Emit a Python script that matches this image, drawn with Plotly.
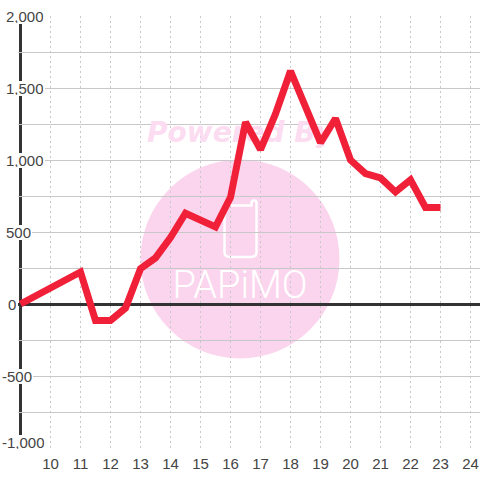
import plotly.graph_objects as go

hours = [9, 11, 11.5, 12, 12.5, 13, 13.5, 14, 14.5, 15, 15.5, 16, 16.5, 17, 17.5, 18, 18.5, 19, 19.5, 20, 20.5, 21, 21.5, 22, 22.5, 23]
values = [0, 222, -115, -115, -28, 245, 320, 462, 630, 583, 535, 740, 1262, 1072, 1320, 1618, 1368, 1120, 1288, 1000, 905, 875, 778, 862, 670, 670]
x_ticks = list(range(10, 25))
y_labels = [2000, 1500, 1000, 500, 0, -500, -1000]
logo_text = "PAPiMO"

L, R, T, B = 18, 0, 16, 32
W, H = 480, 480
PW, PH = W - L - R, H - T - B
X0 = 9 - 2.5 / 30
X1 = X0 + PW / 30


def px(x):
    return (x - L) / PW


def py(y):
    return 1 - (y - T) / PH


def dx(x):
    return X0 + (x - L) / 30


def dy(y):
    return (448 - y) / 0.144 - 1000


fig = go.Figure()

fig.add_trace(go.Scatter(
    x=[dx(240.5)], y=[dy(135)], mode="text", text=["Powered By"], hoverinfo="skip",
    textfont=dict(family="DejaVu Sans", size=28, color="#fcdcf0", weight="bold", style="italic"),
    showlegend=False))
fig.add_trace(go.Scatter(
    x=[dx(240)], y=[dy(288)], mode="text", text=[logo_text], hoverinfo="skip",
    textfont=dict(family="Roboto", size=38, color="#ffffff", weight=300),
    showlegend=False))

fig.add_trace(go.Scatter(
    x=hours, y=values, mode="lines", hoverinfo="skip", showlegend=False,
    line=dict(color="#f02038", width=7, shape="linear")))

shapes = [
    dict(type="circle", xref="paper", yref="paper", layer="below",
         x0=px(140.5), x1=px(339.5), y0=py(358.5), y1=py(159.5),
         fillcolor="#fbd5ee", line_width=0),
    dict(type="path", xref="paper", yref="paper", layer="below",
         path=(f"M {px(224.5)} {py(206)} L {px(224.5)} {py(252)} "
               f"Q {px(224.5)} {py(257)} {px(230)} {py(257)} L {px(251)} {py(257)} "
               f"Q {px(256.5)} {py(257)} {px(256.5)} {py(252)} L {px(256.5)} {py(203)} "
               f"Q {px(256.5)} {py(200.5)} {px(254)} {py(200.5)} "
               f"Q {px(251.5)} {py(200.5)} {px(251.5)} {py(203)} L {px(251.5)} {py(205.5)} "
               f"L {px(226)} {py(205.5)} Z"),
         fillcolor="rgba(0,0,0,0)", line=dict(color="#ffffff", width=2.5)),
    dict(type="line", xref="x", yref="paper", layer="between",
         x0=hours[0], x1=hours[0], y0=0, y1=1, line=dict(color="#333333", width=3)),
]

annotations = []
for v in y_labels:
    left = 2 if v < 0 else (8 if v == 0 else 6)
    annotations.append(dict(
        xref="paper", yref="y", x=px(left - 1), y=v, xanchor="left", yanchor="middle",
        text=f"{v:,}", showarrow=False, bgcolor="#ffffff", borderpad=1, borderwidth=0,
        yshift=6 if v == y_labels[-1] else 0,
        height=13, font=dict(family="Liberation Sans", size=15, color="#444444")))

fig.update_layout(
    width=W, height=H, autosize=False,
    margin=dict(l=L, r=R, t=T, b=B, pad=0),
    paper_bgcolor="#ffffff", plot_bgcolor="#ffffff",
    showlegend=False, shapes=shapes, annotations=annotations,
    font=dict(family="Liberation Sans", size=15, color="#444444"),
    xaxis=dict(range=[X0, X1], tickmode="array", tickvals=x_ticks, ticktext=[str(t) for t in x_ticks],
               showgrid=True, gridcolor="#c8c8c8", gridwidth=1, griddash="2px,3px",
               zeroline=False, showline=False, ticks="outside", ticklen=2, tickcolor="rgba(0,0,0,0)",
               tickfont=dict(family="Liberation Sans", size=15, color="#444444")),
    yaxis=dict(range=[-1000, 2000], tickmode="linear", tick0=-1000, dtick=250, showticklabels=False,
               showgrid=True, gridcolor="#c8c8c8", gridwidth=1,
               zeroline=True, zerolinecolor="#333333", zerolinewidth=3, showline=False, ticks=""),
)

fig.write_html("out.html", config=dict(displayModeBar=False),
               post_script="document.body.style.margin='0';document.documentElement.style.overflow='hidden';")
